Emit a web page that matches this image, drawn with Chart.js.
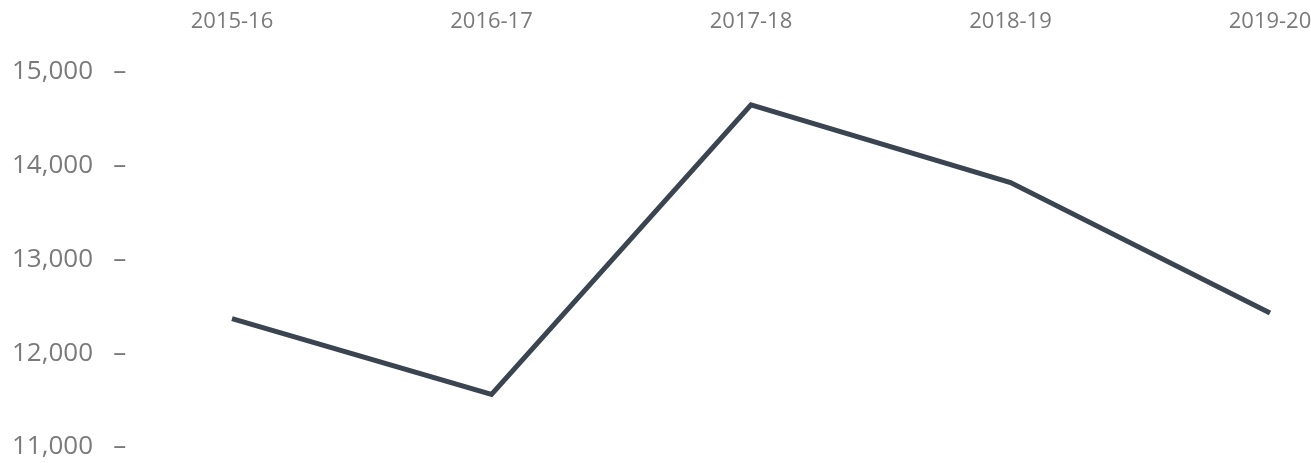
<!DOCTYPE html>
<html>
<head>
<meta charset="utf-8">
<script src="https://cdn.jsdelivr.net/npm/chart.js@4.4.1/dist/chart.umd.min.js"></script>
<style>
    html, body { margin: 0; padding: 0; background: #fff; }
    #wrap { width: 1311px; height: 463px; }
</style>
</head>
<body>
<div id="wrap"><canvas id="lineChart"></canvas></div>
<script>
const years = ["2015-16", "2016-17", "2017-18", "2018-19", "2019-20"];
const values = [12370, 11560, 14650, 13820, 12430];
const yTicks = [11000, 12000, 13000, 14000, 15000];

const labelColor = "#7a7a7a";
const lineColor = "#3b4451";

const ctx = document.getElementById("lineChart").getContext("2d");

new Chart(ctx, {
    type: "line",
    data: {
        labels: years,
        datasets: [{
            data: values,
            borderColor: lineColor,
            borderWidth: 5,
            pointRadius: 0,
            tension: 0,
            fill: false
        }]
    },
    options: {
        responsive: true,
        maintainAspectRatio: false,
        animation: false,
        layout: { padding: { top: 0, right: 41, bottom: 16, left: 12 } },
        plugins: {
            legend: { display: false },
            tooltip: { enabled: false }
        },
        scales: {
            x: {
                position: "top",
                offset: false,
                grid: { display: false, drawTicks: false },
                border: { display: false },
                afterFit: function (scale) {
                    scale.height = 72;
                    scale.paddingLeft = 0;
                    scale.paddingRight = 0;
                },
                ticks: {
                    color: labelColor,
                    font: { family: "Open Sans", size: 22 },
                    padding: 37,
                    maxRotation: 0,
                    autoSkip: false
                }
            },
            y: {
                min: yTicks[0],
                max: yTicks[yTicks.length - 1],
                afterBuildTicks: function (scale) {
                    scale.ticks = yTicks.map(v => ({ value: v }));
                },
                afterFit: function (scale) {
                    scale.width = 220;
                    scale.paddingTop = 0;
                    scale.paddingBottom = 0;
                },
                grid: { display: false, drawTicks: false },
                border: { display: false },
                ticks: {
                    color: labelColor,
                    font: { family: "Open Sans", size: 26 },
                    crossAlign: "far",
                    callback: function (value) {
                        return value.toLocaleString("en-US") + "   \u2013";
                    }
                }
            }
        }
    }
});
</script>
</body>
</html>
